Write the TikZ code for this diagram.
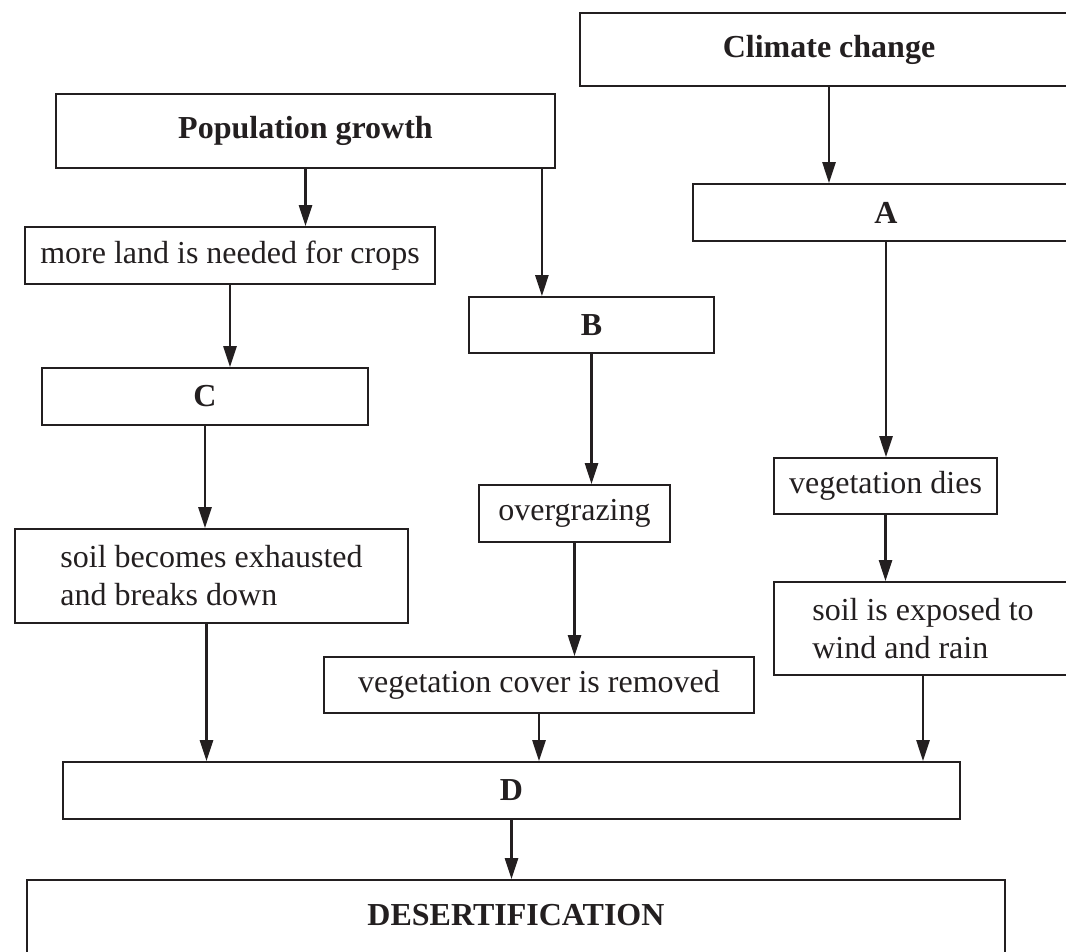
\documentclass[tikz,border=0pt]{standalone}
\usepackage{fontspec}
\setmainfont{Liberation Serif}
\usetikzlibrary{arrows.meta}
\definecolor{ink}{RGB}{35,31,32}

\begin{document}
\begin{tikzpicture}[x=1pt,y=-1pt,>={Triangle[length=21pt,width=13pt]},
  box/.style={draw=ink,text=ink,line width=1.8pt,inner sep=0pt,
    font=\fontsize{32}{38}\selectfont},
  head/.style={box,font=\bfseries\fontsize{32}{38}\selectfont},
  link/.style={->,draw=ink,line width=2.6pt}]
  \clip (0,0) rectangle (1066,951);
  \node[head,minimum width=498pt,minimum height=73pt] (climate) at (829,49.5) {Climate change};
  \node[head,minimum width=499pt,minimum height=74pt] (pop) at (305.5,131) {Population growth};
  \node[head,minimum width=386pt,minimum height=57pt] (A) at (886,212.5) {A};
  \node[box,minimum width=410pt,minimum height=57pt] (land) at (230,255.5) {more land is needed for crops};
  \node[head,minimum width=245pt,minimum height=56pt] (B) at (591.5,325) {B};
  \node[head,minimum width=326pt,minimum height=57pt] (C) at (205,396.5) {C};
  \node[box,minimum width=223pt,minimum height=56pt] (dies) at (885.5,486) {vegetation dies};
  \node[box,minimum width=191pt,minimum height=57pt] (graze) at (574.5,513.5) {overgrazing};
  \node[box,align=left,minimum width=393pt,minimum height=94pt] (soil) at (211.5,576)
    {soil becomes exhausted\\and breaks down};
  \node[box,align=left,minimum width=298pt,minimum height=93pt] (exposed) at (923,628.5)
    {soil is exposed to\\wind and rain};
  \node[box,minimum width=430pt,minimum height=56pt] (cover) at (539,685) {vegetation cover is removed};
  \node[head,minimum width=897pt,minimum height=57pt] (D) at (511.5,790.5) {D};
  \node[head,anchor=base,minimum width=978pt,text height=45pt,text depth=70pt] (desert) at (516,925)
    {DESERTIFICATION};

  \coordinate (popB) at ([xshift=-14pt]pop.south east);
  \coordinate (soilD) at ([xshift=-5pt]soil.south);
  \draw[link] (climate.south) -- (climate.south |- A.north);
  \draw[link] (pop.south) -- (pop.south |- land.north);
  \draw[link] (popB) -- (popB |- B.north);
  \draw[link] (A.south) -- (A.south |- dies.north);
  \draw[link] (land.south) -- (land.south |- C.north);
  \draw[link] (B.south) -- (B.south |- graze.north);
  \draw[link] (C.south) -- (C.south |- soil.north);
  \draw[link] (dies.south) -- (dies.south |- exposed.north);
  \draw[link] (graze.south) -- (graze.south |- cover.north);
  \draw[link] (soilD) -- (soilD |- D.north);
  \draw[link] (cover.south) -- (cover.south |- D.north);
  \draw[link] (exposed.south) -- (exposed.south |- D.north);
  \draw[link] (D.south) -- (D.south |- desert.north);
\end{tikzpicture}
\end{document}
